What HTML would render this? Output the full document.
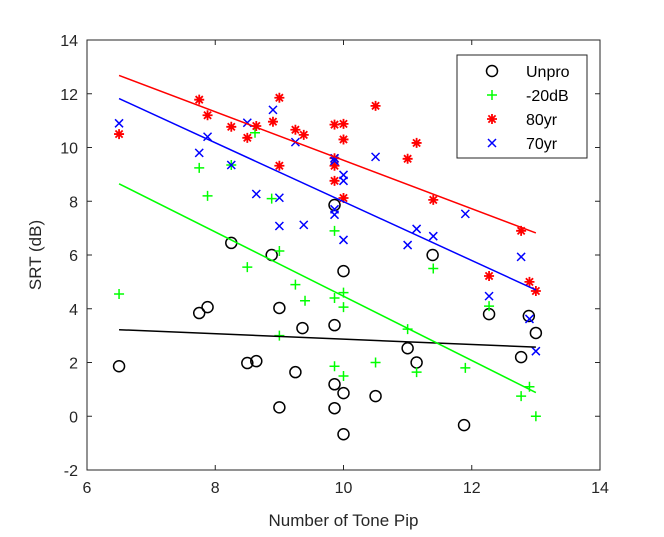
<!DOCTYPE html>
<html><head><meta charset="utf-8"><style>
body{margin:0;background:#fff;}
svg text{font-family:"Liberation Sans",sans-serif;}
</style></head><body>
<svg id="chart" width="664" height="532" xmlns="http://www.w3.org/2000/svg">
<rect width="664" height="532" fill="#fff"/>
<g id="plot"></g>
</svg>
<script>
const xTicks=[6,8,10,12,14];
const yTicks=[-2,0,2,4,6,8,10,12,14];
const seriesNames=["Unpro","-20dB","80yr","70yr"];
const unproX=[6.5,7.75,7.88,8.25,8.5,8.64,8.88,9.0,9.0,9.25,9.36,9.86,9.86,10,9.86,10,9.86,10,10.5,11.0,11.14,11.39,11.88,12.27,12.77,12.89,13.0];
const unproY=[1.86,3.84,4.06,6.45,1.98,2.05,6.0,4.03,0.33,1.64,3.28,3.39,7.86,5.4,1.19,0.86,0.3,-0.67,0.75,2.53,2.0,6.0,-0.33,3.8,2.2,3.73,3.1];
const greenX=[6.5,7.75,7.88,8.25,8.62,8.5,8.88,9.0,9.0,9.25,9.4,9.86,9.86,10,10,9.86,10,10.5,11.0,11.14,11.4,11.9,12.27,12.77,12.9,13.0];
const greenY=[4.55,9.24,8.2,9.35,10.55,5.55,8.1,6.15,3.0,4.9,4.3,6.9,4.4,4.6,4.06,1.86,1.5,2.0,3.24,1.64,5.5,1.8,4.1,0.75,1.1,0];
const redX=[6.5,7.75,7.88,8.25,8.5,8.64,8.9,9.0,9.0,9.25,9.38,9.86,10,10,9.86,9.86,10,10.5,11.0,11.14,11.4,12.27,12.77,12.9,13.0,9.86];
const redY=[10.5,11.78,11.2,10.77,10.36,10.8,10.96,11.85,9.32,10.66,10.47,10.85,10.88,10.3,9.32,8.76,8.12,11.55,9.58,10.17,8.05,5.22,6.9,5.0,4.66,9.6];
const blueX=[6.5,7.75,7.88,8.25,8.5,8.64,8.9,9.0,9.0,9.25,9.38,9.86,9.86,10,10,9.86,9.86,10,10.5,11.0,11.14,11.4,11.9,12.27,12.77,12.9,13.0];
const blueY=[10.9,9.8,10.4,9.35,10.92,8.27,11.4,8.13,7.08,10.2,7.12,9.6,9.5,8.98,8.76,7.5,7.7,6.56,9.65,6.37,6.97,6.7,7.53,4.47,5.93,3.62,2.42];
const fitX=[6.5,13];
const fitUnpro=[3.22,2.57];
const fitGreen=[8.65,0.88];
const fitRed=[12.68,6.82];
const fitBlue=[11.82,4.7];

const L=87,R=600,T=40,B=470;
const xs=v=>L+(v-6)/(14-6)*(R-L);
const ys=v=>B-(v+2)/16*(B-T);
const NS="http://www.w3.org/2000/svg";
const g=document.getElementById('plot');
function mk(tag,attrs,parent){const e=document.createElementNS(NS,tag);for(const k in attrs)e.setAttribute(k,attrs[k]);(parent||g).appendChild(e);return e;}

const box=mk('rect',{x:L,y:T,width:R-L,height:B-T,fill:'none',stroke:'#262626','stroke-width':1});


xTicks.forEach(t=>{
  const x=xs(t);
  const tk=mk('path',{d:`M${x},${B}v-5M${x},${T}v5`,stroke:'#262626','stroke-width':1});
  
  
  const tx=mk('text',{x:x,y:B+23,'text-anchor':'middle','font-size':16,fill:'#262626'});
  tx.textContent=t;
  
  
});
yTicks.forEach(t=>{
  const y=ys(t);
  const tk=mk('path',{d:`M${L},${y}h5M${R},${y}h-5`,stroke:'#262626','stroke-width':1});
  
  
  const tx=mk('text',{x:L-9,y:y+6,'text-anchor':'end','font-size':16,fill:'#262626'});
  tx.textContent=t;
  
  
});
const xt=mk('text',{x:(L+R)/2,y:526,'text-anchor':'middle','font-size':17,fill:'#262626'});
xt.textContent='Number of Tone Pip';


const yt=mk('text',{x:0,y:0,'text-anchor':'middle','font-size':17,fill:'#262626',transform:`translate(41,${(T+B)/2}) rotate(-90)`});
yt.textContent='SRT (dB)';



function marker(type,cx,cy,color,parent){
  let d;
  if(type==='o'){return mk('circle',{cx:cx,cy:cy,r:5.5,fill:'none',stroke:color,'stroke-width':1.5},parent);}
  if(type==='+')d=`M${cx-5},${cy}h10M${cx},${cy-5}v10`;
  if(type==='x')d=`M${cx-4},${cy-4}l8,8M${cx-4},${cy+4}l8,-8`;
  if(type==='*')d=`M${cx-5},${cy}h10M${cx},${cy-5}v10M${cx-3.6},${cy-3.6}l7.2,7.2M${cx-3.6},${cy+3.6}l7.2,-7.2`;
  return mk('path',{d:d,fill:'none',stroke:color,'stroke-width':type==='*'?1.8:1.5},parent);
}
const series=[
 {name:'unpro',X:unproX,Y:unproY,fit:fitUnpro,m:'o',c:'#000'},
 {name:'minus20db',X:greenX,Y:greenY,fit:fitGreen,m:'+',c:'#00ff00'},
 {name:'80yr',X:redX,Y:redY,fit:fitRed,m:'*',c:'#ff0000'},
 {name:'70yr',X:blueX,Y:blueY,fit:fitBlue,m:'x',c:'#0000ff'}];
series.forEach(s=>{
  s.X.forEach((xv,i)=>{
    const p=marker(s.m,xs(xv),ys(s.Y[i]),s.c);
    
    
  });
});
series.forEach(s=>{
  const ln=mk('line',{x1:xs(fitX[0]),y1:ys(s.fit[0]),x2:xs(fitX[1]),y2:ys(s.fit[1]),stroke:s.c,'stroke-width':1.5});
  
  
});
const lg=mk('g',{});


mk('rect',{x:457,y:55,width:130,height:103,fill:'#fff',stroke:'#262626','stroke-width':1},lg);
series.forEach((s,i)=>{
  const y=71+i*24;
  const m=marker(s.m,492,y,s.c,lg);
  
  
  const t=mk('text',{x:526,y:y+6,'font-size':16,fill:'#000'},lg);
  t.textContent=seriesNames[i];
  
  
});
</script>
</body></html>
